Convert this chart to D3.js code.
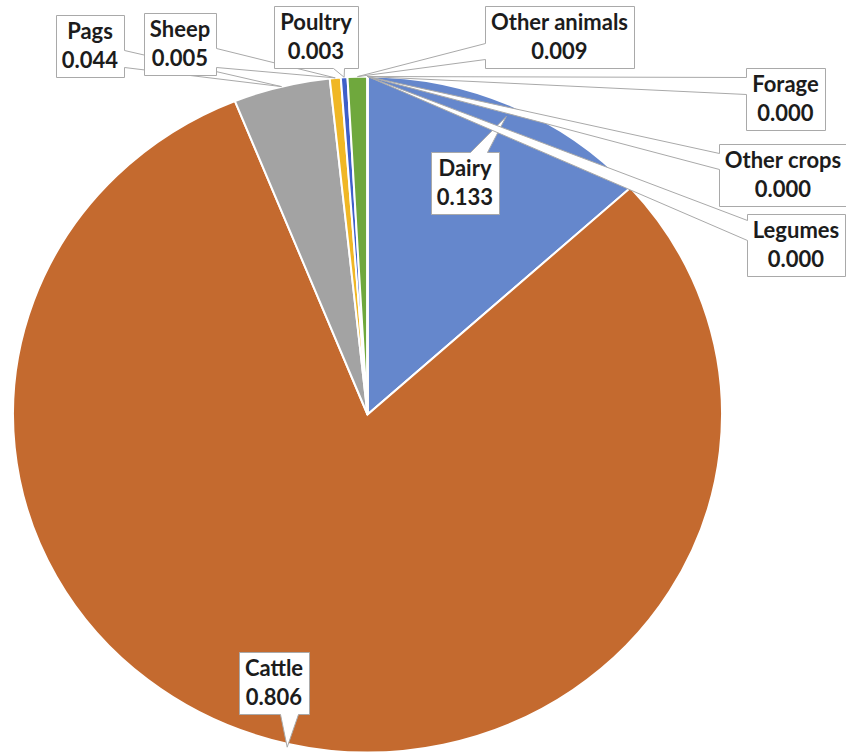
<!DOCTYPE html>
<html>
<head>
<meta charset="utf-8">
<script src="https://cdn.jsdelivr.net/npm/d3@7/dist/d3.min.js"></script>
<style>
  html, body { margin: 0; padding: 0; background: #ffffff; }
  svg { display: block; }
</style>
</head>
<body>
<svg id="chart" width="846" height="755"></svg>
<script>
// Share of each source category
const categories = ["Dairy", "Cattle", "Pags", "Sheep", "Poultry", "Other animals", "Forage", "Other crops", "Legumes"];
const values = [0.133, 0.806, 0.044, 0.005, 0.003, 0.009, 0.000, 0.000, 0.000];
const sliceColors = ["#6587CC", "#C46A2F", "#A3A3A3", "#F0B725", "#3E5FC9", "#6FA83D", "#8C8C8C", "#8C8C8C", "#8C8C8C"];

// Callout box placement: left, top, side holding the pointer, pointer base offsets, pointer reach
const boxLeft = [431, 239, 56, 144, 274, 485, 746, 719, 747];
const boxTop = [152, 652, 15, 13, 6, 6, 68, 144, 214];
const pointerSide = ["top", "bottom", "right", "right", "bottom", "left", "left", "left", "left"];
const pointerBase = [[39, 56], [41, 59], [35, 52], [35, 54], [59, 70], [37, 53], [9, 26], [9, 25], [6, 26]];
const pointerReach = [0.965, 1.01, 1, 1, 1, 1, 1, 1, 1];

const W = 846, H = 755;
const cx = 367.5, cy = 414.5;
const rx = 354.5, ry = 338;
const boxH = 62;

const svg = d3.select("#chart");
const fmt = d3.format(".3f");

const pie = d3.pie().sort(null).value(d => d).startAngle(0).endAngle(2 * Math.PI);
const arcs = pie(values);
const arc = d3.arc().innerRadius(0).outerRadius(ry);

// Pie, stretched horizontally into an ellipse
svg.append("g")
  .attr("transform", `translate(${cx},${cy}) scale(${rx / ry},1)`)
  .selectAll("path")
  .data(arcs)
  .join("path")
  .attr("d", arc)
  .attr("fill", (d, i) => sliceColors[i])
  .attr("stroke", "#ffffff")
  .attr("stroke-width", 2)
  .attr("vector-effect", "non-scaling-stroke");

function calloutPath(x, y, w, h, side, b, tip) {
  const [b1, b2] = b;
  const [tx, ty] = tip;
  const p = [];
  p.push([x, y]);
  if (side === "top") { p.push([x + b1, y], [tx, ty], [x + b2, y]); }
  p.push([x + w, y]);
  if (side === "right") { p.push([x + w, y + b1], [tx, ty], [x + w, y + b2]); }
  p.push([x + w, y + h]);
  if (side === "bottom") { p.push([x + b2, y + h], [tx, ty], [x + b1, y + h]); }
  p.push([x, y + h]);
  if (side === "left") { p.push([x, y + b2], [tx, ty], [x, y + b1]); }
  return "M" + p.map(q => q.join(",")).join("L") + "Z";
}

// Data callouts, drawn in series order so later ones sit on top
arcs.forEach((d, i) => {
  const a = (d.startAngle + d.endAngle) / 2;
  const k = pointerReach[i];
  const tip = [cx + Math.sin(a) * rx * k, cy - Math.cos(a) * ry * k];

  const g = svg.append("g");
  const shape = g.append("path")
    .attr("fill", "#ffffff")
    .attr("stroke", "#A9A9A9")
    .attr("stroke-width", 1);

  const text = g.append("text")
    .attr("font-family", "Lato, 'Open Sans', sans-serif")
    .attr("font-weight", 700)
    .attr("font-size", 22)
    .attr("fill", "#1c1c1c")
    .attr("text-anchor", "middle");
  const t1 = text.append("tspan").text(categories[i]);
  const t2 = text.append("tspan").text(fmt(d.data));

  const tw = Math.max(t1.node().getComputedTextLength(), t2.node().getComputedTextLength());
  const bw = Math.round(tw + 12);
  const x = boxLeft[i], y = boxTop[i];
  const mid = x + bw / 2;
  t1.attr("x", mid).attr("y", y + 24);
  t2.attr("x", mid).attr("y", y + 52.5);

  shape.attr("d", calloutPath(x + 0.5, y + 0.5, bw, boxH, pointerSide[i], pointerBase[i], tip));
});
</script>
</body>
</html>
